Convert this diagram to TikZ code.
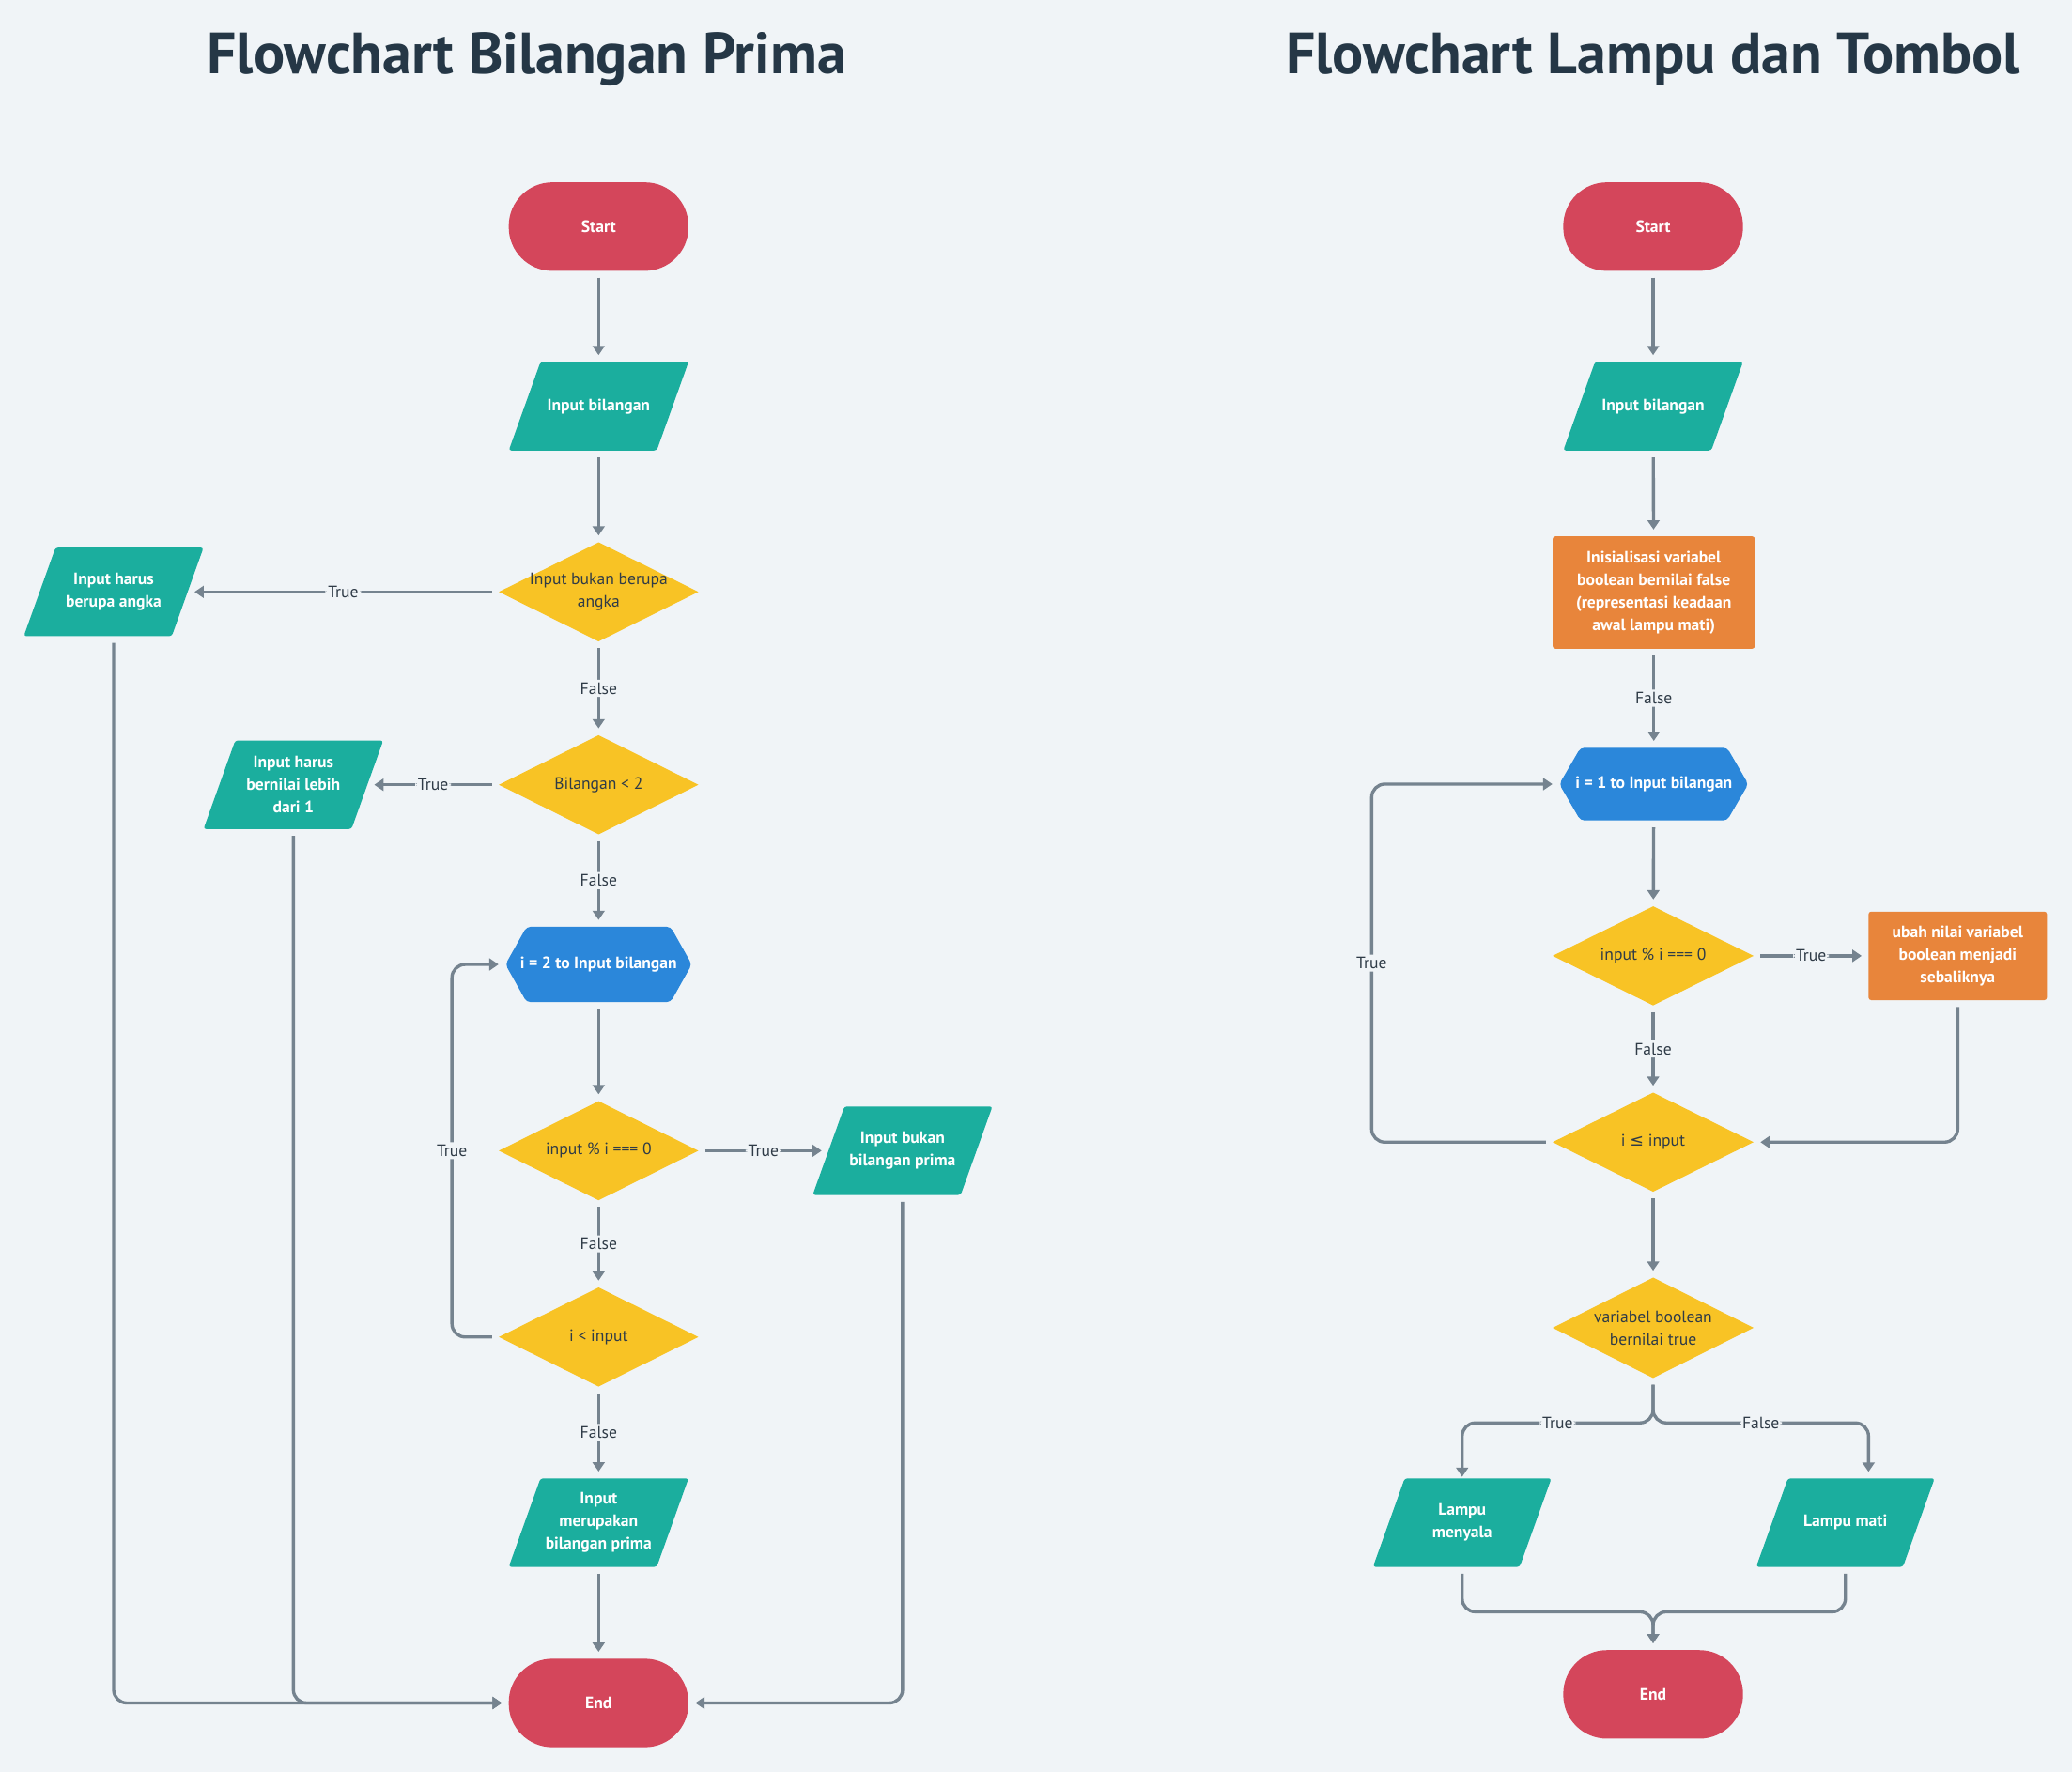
\documentclass[tikz,border=0pt]{standalone}
\usepackage{fontspec}
\setmainfont{PT Sans}
\newfontfamily\symf{DejaVu Sans}
\usetikzlibrary{arrows.meta,calc}
\definecolor{cBg}{HTML}{F0F4F7}
\definecolor{cTitle}{HTML}{253746}
\definecolor{cRed}{HTML}{D4465B}
\definecolor{cTeal}{HTML}{1BAE9E}
\definecolor{cYellow}{HTML}{F8C325}
\definecolor{cBlue}{HTML}{2B87DA}
\definecolor{cOrange}{HTML}{E8853B}
\definecolor{cLine}{HTML}{75838F}
\definecolor{cDark}{HTML}{2F3B47}
\tikzset{
  base/.style={inner sep=0pt, align=center, text=white,
    font=\fontsize{12.5}{17}\selectfont\bfseries},
  term/.style={base, rectangle, rounded corners=33pt, fill=cRed,
    minimum width=136pt, minimum height=67pt},
  io/.style={base, minimum width=136pt, minimum height=67pt,
    path picture={\fill[cTeal, rounded corners=2pt]
      (path picture bounding box.south west) --
      ([xshift=24pt]path picture bounding box.north west) --
      (path picture bounding box.north east) --
      ([xshift=-24pt]path picture bounding box.south east) -- cycle;}},
  dec/.style={base, font=\fontsize{12.5}{17}\selectfont, text=cDark,
    minimum width=151pt, minimum height=75pt,
    path picture={\fill[cYellow]
      (path picture bounding box.west) --
      (path picture bounding box.north) --
      (path picture bounding box.east) --
      (path picture bounding box.south) -- cycle;}},
  loopbox/.style={base, minimum width=141pt, minimum height=57pt,
    path picture={\fill[cBlue, rounded corners=3pt]
      (path picture bounding box.west) --
      ([xshift=16pt]path picture bounding box.north west) --
      ([xshift=-16pt]path picture bounding box.north east) --
      (path picture bounding box.east) --
      ([xshift=-16pt]path picture bounding box.south east) --
      ([xshift=16pt]path picture bounding box.south west) -- cycle;}},
  proc/.style={base, rectangle, rounded corners=2pt, fill=cOrange},
  arr/.style={draw=cLine, line width=2.4pt, rounded corners=10pt,
    -{Triangle[width=9pt,length=7pt]}, shorten >=5pt, shorten <=5pt},
  lbl/.style={fill=cBg, inner sep=2pt, text=cDark,
    font=\fontsize{12.5}{14}\selectfont},
  title/.style={text=cTitle, font=\fontsize{44}{52}\selectfont\bfseries}
}
\begin{document}
\begin{tikzpicture}[x=1pt,y=-1pt]
\fill[cBg] (0,0) rectangle (1568,1341);
\useasboundingbox (0,0) rectangle (1568,1341);

% titles
\node[title] (t1) at (398.5,45) {Flowchart Bilangan Prima};
\node[title] (t2) at (1251,45) {Flowchart Lampu dan Tombol};

% ---------- left chart ----------
\node[term] (s1) at (453,171.5) {Start};
\node[io] (in1) at (453,307.5) {Input bilangan};
\node[dec] (d1) at (453,448) {Input bukan berupa\\angka};
\node[io] (e1) at (86,448) {Input harus\\berupa angka};
\node[dec] (d2) at (453,594) {Bilangan < 2};
\node[io] (e2) at (222,594) {Input harus\\bernilai lebih\\dari 1};
\node[loopbox] (h1) at (453,730) {i = 2 to Input bilangan};
\node[dec] (d3) at (453,871) {input \% i === 0};
\node[io] (o1) at (683,871) {Input bukan\\bilangan prima};
\node[dec] (d4) at (453,1012) {i < input};
\node[io] (o2) at (453,1152.5) {Input\\merupakan\\bilangan prima};
\node[term] (end1) at (453,1289) {End};

\coordinate (L1) at (342,1012);

\draw[arr] (s1) -- (in1);
\draw[arr] (in1) -- (d1);
\draw[arr] (d1.west) -- node[lbl]{True} ([xshift=-12pt]e1.east);
\draw[arr] (d1) -- node[lbl]{False} (d2);
\draw[arr] (d2.west) -- node[lbl]{True} ([xshift=-12pt]e2.east);
\draw[arr] (d2) -- node[lbl]{False} (h1);
\draw[arr] (h1) -- (d3);
\draw[arr] (d3.east) -- node[lbl]{True} ([xshift=12pt]o1.west);
\draw[arr] (d3) -- node[lbl]{False} (d4);
\draw[arr] (d4.west) -- (L1) |- node[lbl,pos=0.25]{True} (h1.west);
\draw[arr] (d4) -- node[lbl]{False} (o2);
\draw[arr] (o2) -- (end1);
\draw[arr] (e1.south) |- (end1.west);
\draw[arr] (e2.south) |- (end1.west);
\draw[arr] (o1.south) |- (end1.east);

% ---------- right chart ----------
\node[term] (s2) at (1251,171.5) {Start};
\node[io] (in2) at (1251,307.5) {Input bilangan};
\node[proc, minimum width=153pt, minimum height=85pt] (p1) at (1251.5,448.5)
  {Inisialisasi variabel\\boolean bernilai false\\(representasi keadaan\\awal lampu mati)};
\node[loopbox, minimum width=143pt, minimum height=55pt] (h2) at (1251.5,593.5) {i = 1 to Input bilangan};
\node[dec, minimum width=152pt] (d5) at (1251,723.5) {input \% i === 0};
\node[proc, minimum width=135pt, minimum height=67pt] (p2) at (1481.5,723.5)
  {ubah nilai variabel\\boolean menjadi\\sebaliknya};
\node[dec, minimum width=152pt] (d6) at (1251,864.5) {i {\symf ≤} input};
\node[dec, minimum width=152pt, minimum height=76pt] (d7) at (1251,1005) {variabel boolean\\bernilai true};
\node[io, minimum width=135pt] (lm1) at (1106.5,1152.5) {Lampu\\menyala};
\node[io, minimum width=135pt] (lm2) at (1396.5,1152.5) {Lampu mati};
\node[term] (end2) at (1251,1282.5) {End};

\coordinate (L2) at (1038,864.5);
\coordinate (S) at (1251,1077);
\coordinate (T2) at (1414,1119);
\coordinate (J) at (1251,1220);

\draw[arr] (s2) -- (in2);
\draw[arr] (in2) -- (p1);
\draw[arr] (p1) -- node[lbl]{False} (h2);
\draw[arr] (h2) -- (d5);
\draw[arr] (d5.east) -- node[lbl]{True} (p2.west);
\draw[arr] (d5) -- node[lbl]{False} (d6);
\draw[arr] (d6.west) -- (L2) |- node[lbl,pos=0.25]{True} (h2.west);
\draw[arr] (p2.south) |- (d6.east);
\draw[arr] (d6) -- (d7);
\draw[arr, shorten >=1pt] (d7.south) -- (S) -| node[lbl,pos=0.25]{True} (lm1.north);
\draw[arr] (d7.south) -- (S) -| node[lbl,pos=0.25]{False} (T2);
\draw[arr] (lm1.south) |- (J) -- (end2.north);
\draw[arr] (lm2.south) |- (J) -- (end2.north);
\end{tikzpicture}
\end{document}
